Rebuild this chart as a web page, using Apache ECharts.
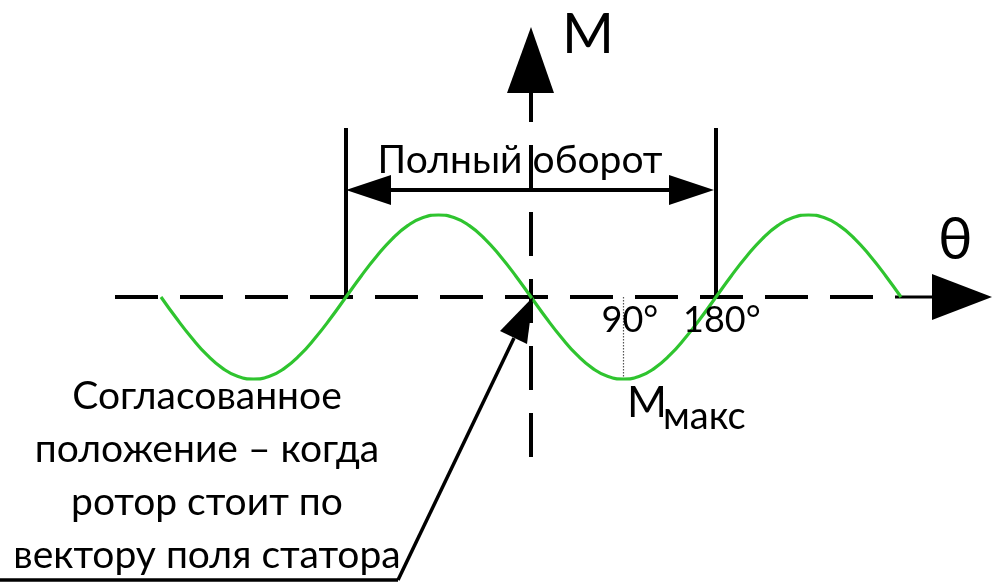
<!DOCTYPE html>
<html><head><meta charset="utf-8">
<script src="https://cdn.jsdelivr.net/npm/echarts@6/dist/echarts.min.js"></script>
<style>html,body{margin:0;padding:0;background:#fff}#c{width:993px;height:583px}</style>
</head><body><div id="c"></div>
<script>
// rotor angle, degrees
var theta = [-360,-345,-330,-315,-300,-285,-270,-255,-240,-225,-210,-195,-180,-165,-150,-135,-120,-105,-90,-75,-60,-45,-30,-15,0,15,30,45,60,75,90,105,120,135,150,165,180,195,210,225,240,255,270,285,300,315,330,345,360];
// torque M (relative to M max)
var torque = [0,-0.26,-0.5,-0.71,-0.87,-0.97,-1,-0.97,-0.87,-0.71,-0.5,-0.26,0,0.26,0.5,0.71,0.87,0.97,1,0.97,0.87,0.71,0.5,0.26,0,-0.26,-0.5,-0.71,-0.87,-0.97,-1,-0.97,-0.87,-0.71,-0.5,-0.26,0,0.26,0.5,0.71,0.87,0.97,1,0.97,0.87,0.71,0.5,0.26,0];
var tickLabels = ['90°','180°'];
var tickValues = [90,180];
var axisLabelM = 'M';
var axisLabelTheta = 'θ';
var spanLabel = 'Полный оборот';
var mMaxMain = 'M', mMaxSub = 'макс';
var noteLines = ['Согласованное','положение – когда','ротор стоит по','вектору поля статора'];

var FONT = 'Lato, "Noto Sans", sans-serif';
var chart = echarts.init(document.getElementById('c'), null, {renderer:'canvas'});
var data = theta.map(function(t,i){return [t, torque[i]];});
chart.setOption({
  animation:false,
  grid:{left:161,width:740,top:215,height:164},
  xAxis:{type:'value',min:-360,max:360,show:false},
  yAxis:{type:'value',min:-1,max:1,show:false},
  series:[{type:'line',data:data,smooth:true,symbol:'none',clip:false,z:5,
    lineStyle:{color:'#2fc42f',width:3.2}}]
});
function p(t,m){return chart.convertToPixel({gridIndex:0},[t,m]);}
var o = p(0,0), X0=o[0], Y0=o[1];
var xL = p(-180,0)[0], xR = p(180,0)[0];
var black='#000';
var g = [];
function line(x1,y1,x2,y2,w,dash,color){
  g.push({type:'line',z:3,shape:{x1:x1,y1:y1,x2:x2,y2:y2},style:{stroke:color||black,lineWidth:w,lineDash:dash||null}});
}
function tri(pts){g.push({type:'polygon',z:6,shape:{points:pts},style:{fill:black}});}
function text(s,x,y,size,align,va){
  g.push({type:'text',z:7,style:{text:s,x:x,y:y,font:size+'px '+FONT,fill:'#000',textAlign:align||'left',textVerticalAlign:va||'middle'}});
}
// horizontal axis
line(115,Y0,895,Y0,4,[43,22]);
line(895,Y0,935,Y0,3);
tri([[932,274],[992,Y0],[932,320]]);
// vertical axis
line(X0,457,X0,93,4,[44,23]);
tri([[X0,27],[X0-24,93],[X0+23,93]]);
text(axisLabelM,562,35,56);
text(axisLabelTheta,938,240,58);
// full turn bars and arrow
line(xL,128,xL,Y0,4);
line(xR,128,xR,Y0,4);
line(xL+40,190,xR-40,190,4);
tri([[xL,190],[xL+45,175],[xL+45,205]]);
tri([[xR-2,190],[xR-47,175],[xR-47,205]]);
text(spanLabel,520,160,39,'center');
// dotted line at 90
var q = p(90,-1);
line(q[0],Y0,q[0],q[1],1.2,[1.5,1.5],'#555');
tickValues.forEach(function(v,i){
  var x = p(v,0)[0];
  text(tickLabels[i], i===0? x-22 : x-33, 320, 36);
});
text(mMaxMain,627,403,43);
text(mMaxSub,663,417,38);
// note
var ys=[396,449,502,555];
noteLines.forEach(function(s,i){text(s,207,ys[i],39,'center');});
// pointer
line(0,580,398,580,3.5);
line(398,580,514,338,3.5);
tri([[X0+2,Y0],[500,331],[527,344]]);
chart.setOption({graphic:g});
</script></body></html>
